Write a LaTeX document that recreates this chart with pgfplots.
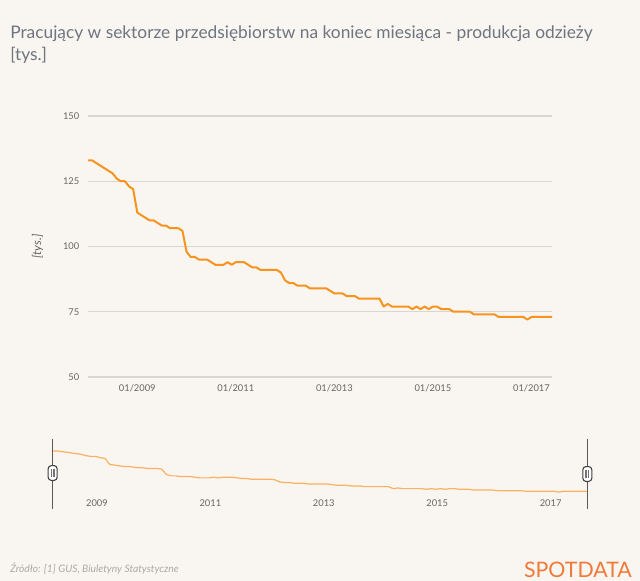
\documentclass[border=0pt]{standalone}
\usepackage{pgfplots}
\pgfplotsset{compat=1.18}
\usepackage{pgfplotstable}
\usepackage{fontspec}
\setmainfont{Lato}
\definecolor{bgc}{HTML}{F9F5F0}
\definecolor{titlec}{HTML}{6E7580}
\definecolor{gridc}{HTML}{D9D6D2}
\definecolor{tickc}{HTML}{666666}
\definecolor{linec}{HTML}{F7941D}
\definecolor{navc}{HTML}{F9B261}
\definecolor{logoc}{HTML}{F07A3A}
\definecolor{srcc}{HTML}{ACA9A6}
\pgfplotstableread{
m v
0 133
1 133
2 132
3 131
4 130
5 129
6 128
7 126
8 125
9 125
10 123
11 122
12 113
13 112
14 111
15 110
16 110
17 109
18 108
19 108
20 107
21 107
22 107
23 106
24 98
25 96
26 96
27 95
28 95
29 95
30 94
31 93
32 93
33 93
34 94
35 93
36 94
37 94
38 94
39 93
40 92
41 92
42 91
43 91
44 91
45 91
46 91
47 90
48 87
49 86
50 86
51 85
52 85
53 85
54 84
55 84
56 84
57 84
58 84
59 83
60 82
61 82
62 82
63 81
64 81
65 81
66 80
67 80
68 80
69 80
70 80
71 80
72 77
73 78
74 77
75 77
76 77
77 77
78 77
79 76
80 77
81 76
82 77
83 76
84 77
85 77
86 76
87 76
88 76
89 75
90 75
91 75
92 75
93 75
94 74
95 74
96 74
97 74
98 74
99 74
100 73
101 73
102 73
103 73
104 73
105 73
106 73
107 72
108 73
109 73
110 73
111 73
112 73
113 73
}\datatable
\begin{document}
\begin{tikzpicture}
\fill[bgc] (0,0) rectangle (480pt,-435.75pt);
% title
\node[anchor=north west, inner sep=0pt, align=left, text=titlec, font=\fontsize{13pt}{16.5pt}\selectfont] at (7.5pt,-19pt)
 {Pracujący w sektorze przedsiębiorstw na koniec miesiąca - produkcja odzieży\\{}[tys.]};
% main axis
\begin{axis}[at={(66pt,-282.75pt)}, anchor=south west, scale only axis,
  width=348pt, height=195.75pt,
  xmin=0, xmax=113, ymin=50, ymax=150,
  axis line style={draw=none},
  major tick length=0pt,
  ytick={50,75,100,125,150},
  xtick={12,36,60,84,108},
  xticklabels={01/2009,01/2011,01/2013,01/2015,01/2017},
  ymajorgrids, grid style={gridc, line width=0.9pt},
  /pgf/number format/assume math mode=true,
  tick label style={text=tickc, font=\fontsize{7pt}{8pt}\selectfont},
  yticklabel style={xshift=-3pt},
  xticklabel style={yshift=-2pt},
  ylabel={[tys.]},
  ylabel style={font=\itshape\fontsize{9pt}{10pt}\selectfont, text=tickc, yshift=8pt},
  clip=false]
\addplot[linec, line width=1.5pt, line join=round] table[x=m,y=v]{\datatable};
\end{axis}
% navigator axis
\begin{axis}[at={(39.75pt,-369pt)}, anchor=south west, scale only axis,
  width=400.5pt, height=30.75pt,
  xmin=0, xmax=113, ymin=72, ymax=133,
  axis line style={draw=none},
  major tick length=0pt,
  ytick=\empty,
  xtick={9.3,33.3,57.3,81.3,105.3},
  xticklabels={2009,2011,2013,2015,2017},
  /pgf/number format/assume math mode=true,
  tick label style={text=tickc, font=\fontsize{7pt}{8pt}\selectfont},
  xticklabel style={yshift=-2pt},
  clip=false]
\addplot[navc, line width=0.9pt, line join=round] table[x=m,y=v]{\datatable};
\end{axis}
% navigator handles
\foreach \hx/\hy in {39.5/354.75, 440.5/355.5}{
  \draw[black!65, line width=1.1pt] (\hx pt,-329.25pt) -- (\hx pt,-381.75pt);
  \filldraw[fill=white, draw=black!75, line width=0.8pt, rounded corners=2.5pt]
     (\hx pt-3.4pt,-\hy pt+5.6pt) rectangle (\hx pt+3.4pt,-\hy pt-5.6pt);
  \fill[black!55] (\hx pt-1.5pt,-\hy pt+3pt) rectangle (\hx pt+1.5pt,-\hy pt-3pt);
  \draw[white, line width=0.4pt] (\hx pt,-\hy pt+3pt) -- (\hx pt,-\hy pt-3pt);
}
% footer
\node[anchor=base west, inner sep=0pt, text=srcc, font=\itshape\fontsize{7.7pt}{9pt}\selectfont] at (7.5pt,-429pt)
 {Źródło: [1] GUS, Biuletyny Statystyczne};
\node[anchor=base east, inner sep=0pt, text=logoc, font=\fontsize{16pt}{18pt}\selectfont] at (474pt,-433pt)
 {SPOTDATA};
\end{tikzpicture}
\end{document}
